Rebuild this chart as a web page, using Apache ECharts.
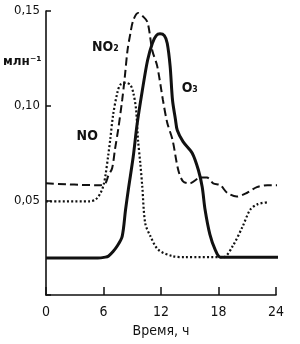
<!DOCTYPE html>
<html><head><meta charset="utf-8">
<script src="https://cdn.jsdelivr.net/npm/echarts@6/dist/echarts.min.js"></script>
<style>html,body{margin:0;padding:0;background:#fff}#c{width:300px;height:344px}</style>
</head><body><div id="c"></div>
<script>
// Time, h ; concentration, ppm (млн^-1)
const xTicks = [0, 6, 12, 18, 24];
const yTicks = [0.05, 0.10, 0.15];
const no2 = [[0,0.059],[5.2,0.058],[5.7,0.058],[6.2,0.059],[6.5,0.063],[6.9,0.067],[7.2,0.077],[7.55,0.088],[7.95,0.103],[8.2,0.114],[8.5,0.129],[8.8,0.138],[9.1,0.145],[9.6,0.149],[10.15,0.147],[10.6,0.144],[11.1,0.129],[11.6,0.121],[12.2,0.103],[12.65,0.091],[13.2,0.082],[13.8,0.066],[14.3,0.060],[15.0,0.059],[16.1,0.062],[16.8,0.062],[17.45,0.059],[18.2,0.058],[18.9,0.054],[19.9,0.052],[21.0,0.054],[22.0,0.057],[23.1,0.058],[24.4,0.058]];
const no = [[0,0.0495],[4.6,0.0495],[5.2,0.0505],[5.7,0.054],[6.0,0.058],[6.2,0.063],[6.5,0.074],[6.7,0.082],[7.0,0.095],[7.45,0.107],[7.75,0.111],[8.3,0.112],[8.8,0.111],[9.1,0.107],[9.4,0.098],[9.6,0.082],[9.85,0.069],[10.05,0.057],[10.35,0.038],[10.9,0.031],[11.7,0.024],[13.2,0.0205],[14.5,0.020],[18.5,0.020],[19.5,0.026],[20.5,0.036],[21.3,0.045],[22.1,0.048],[23.1,0.049]];
const o3 = [[0,0.0195],[5.4,0.0195],[6.2,0.020],[6.5,0.0205],[7.0,0.023],[7.45,0.026],[7.95,0.031],[8.3,0.045],[8.6,0.056],[9.1,0.073],[9.5,0.090],[10.05,0.108],[10.6,0.124],[11.1,0.133],[11.5,0.137],[11.9,0.138],[12.35,0.137],[12.65,0.133],[12.95,0.121],[13.2,0.103],[13.5,0.093],[13.7,0.087],[14.3,0.081],[15.25,0.075],[15.9,0.066],[16.3,0.057],[16.6,0.045],[17.1,0.032],[17.65,0.024],[18.2,0.020],[24.9,0.020]];
const seriesNames = ['NO₂', 'NO', 'O₃'];
const labelPos = [[6.2,0.131],[4.3,0.084],[15.0,0.109]];
const xTitle = 'Время, ч';
const yTitle = 'млн⁻¹';

const font = '"Liberation Sans Narrow","DejaVu Sans Condensed","Liberation Sans",sans-serif';
const chart = echarts.init(document.getElementById('c'), null, {renderer:'canvas'});
function mk(name, data, lineStyle, lp){
  return {type:'line', name, data, symbol:'none', smooth:0.3, clip:false,
    lineStyle, silent:true,
    markPoint:{symbol:'circle', symbolSize:0, silent:true, data:[{coord:lp}],
      label:{show:true, position:'inside', formatter:name, color:'#111', fontSize:14, fontFamily:font, fontWeight:'bold'}}};
}
chart.setOption({
  animation:false,
  backgroundColor:'#fff',
  grid:{left:46, right:24, top:11, bottom:49},
  xAxis:{type:'value', min:0, max:24, interval:6,
    axisLine:{lineStyle:{color:'#111', width:1.6}},
    axisTick:{inside:true, length:8, lineStyle:{color:'#111', width:1.5}},
    axisLabel:{color:'#111', fontSize:14, fontFamily:font, margin:10, formatter:v=>xTicks.includes(v)?String(v):''},
    splitLine:{show:false},
    name:xTitle, nameLocation:'middle', nameGap:26,
    nameTextStyle:{color:'#111', fontSize:14, fontFamily:font}},
  yAxis:{type:'value', min:0, max:0.15, interval:0.05,
    axisLine:{show:true, lineStyle:{color:'#111', width:1.6}},
    axisTick:{show:true, inside:true, length:5, lineStyle:{color:'#111', width:1.5}},
    axisLabel:{color:'#111', fontSize:13, fontFamily:font, margin:6,
      formatter:v=>{const t=yTicks.find(y=>Math.abs(y-v)<1e-9);return t?t.toFixed(2).replace('.',','):'';}},
    splitLine:{show:false}},
  graphic:[{type:'text', left:3, top:56, style:{text:yTitle, fontSize:12, fontWeight:'bold', fontFamily:'"DejaVu Sans",sans-serif', fill:'#111'}}],
  series:[
    mk(seriesNames[0], no2, {color:'#111', width:2, type:[8,4]}, labelPos[0]),
    mk(seriesNames[1], no, {color:'#111', width:2.2, type:[2,2.2]}, labelPos[1]),
    mk(seriesNames[2], o3, {color:'#111', width:3}, labelPos[2])
  ]
});
</script></body></html>
